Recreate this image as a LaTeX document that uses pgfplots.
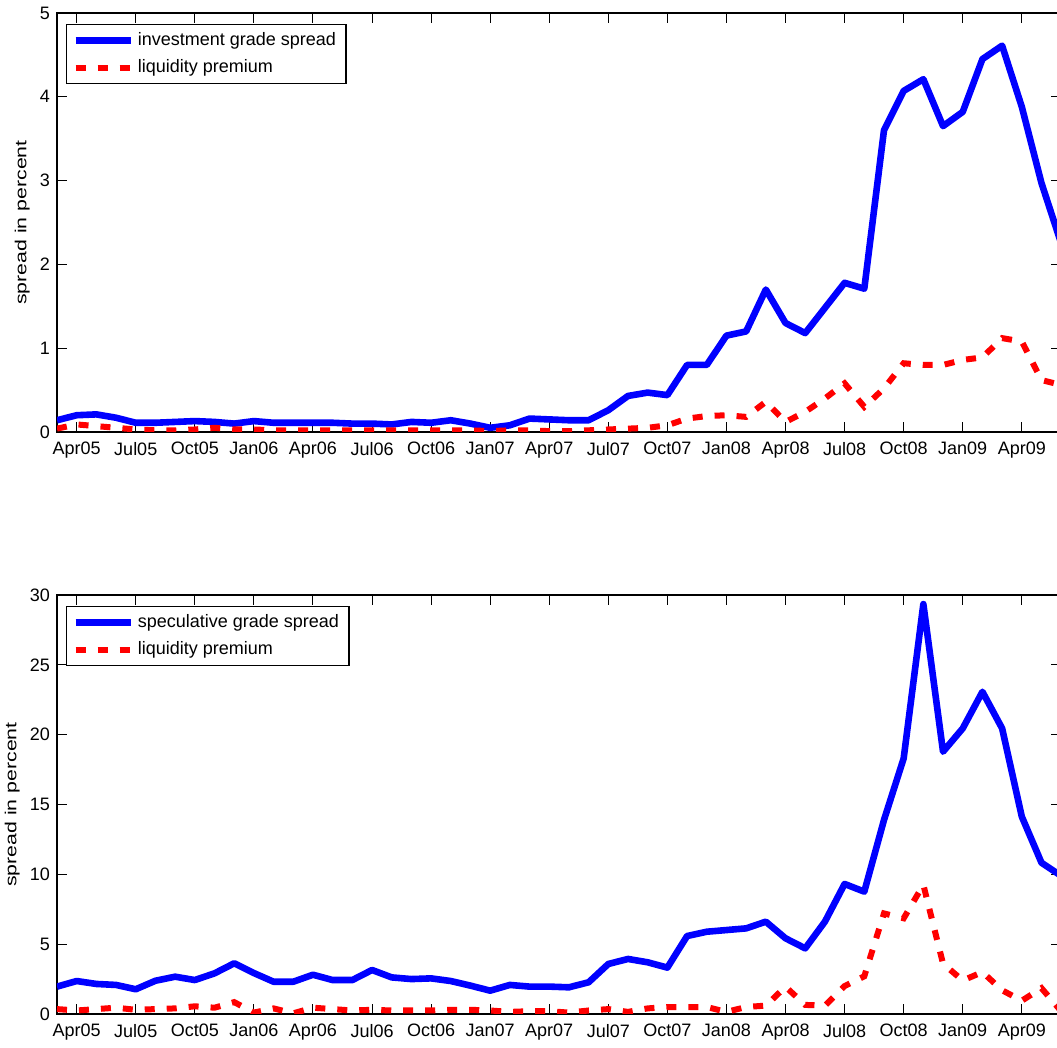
\documentclass[border=0pt]{standalone}
\usepackage{fontspec}
\setmainfont{Liberation Sans}
\usepackage{graphicx}
\usepackage{pgfplots}
\pgfplotsset{compat=1.18}
\usepackage{pgfplotstable}

% month index: 0 = Mar05 ... 51 = Jun09
\pgfplotstableread{
m blue red
0 0.14 0.04
1 0.20 0.09
2 0.21 0.07
3 0.17 0.05
4 0.11 0.03
5 0.11 0.02
6 0.12 0.02
7 0.13 0.03
8 0.12 0.05
9 0.10 0.03
10 0.13 0.03
11 0.11 0.02
12 0.11 0.02
13 0.11 0.02
14 0.11 0.02
15 0.10 0.02
16 0.10 0.02
17 0.09 0.02
18 0.12 0.02
19 0.11 0.02
20 0.14 0.02
21 0.10 0.02
22 0.05 0.01
23 0.08 0.02
24 0.16 0.02
25 0.15 0.01
26 0.14 0.01
27 0.14 0.02
28 0.26 0.03
29 0.43 0.04
30 0.47 0.05
31 0.44 0.08
32 0.80 0.16
33 0.80 0.19
34 1.15 0.20
35 1.20 0.18
36 1.70 0.36
37 1.30 0.12
38 1.18 0.24
39 1.48 0.40
40 1.78 0.58
41 1.71 0.30
42 3.60 0.52
43 4.07 0.82
44 4.21 0.80
45 3.65 0.80
46 3.82 0.86
47 4.45 0.89
48 4.61 1.12
49 3.88 1.08
50 2.97 0.62
51 2.25 0.56
}\investdata

\pgfplotstableread{
m blue red
0 1.96 0.35
1 2.36 0.25
2 2.15 0.35
3 2.08 0.45
4 1.77 0.30
5 2.38 0.35
6 2.67 0.40
7 2.43 0.55
8 2.91 0.45
9 3.63 0.85
10 2.93 0.10
11 2.31 0.40
12 2.31 0.05
13 2.81 0.45
14 2.43 0.35
15 2.43 0.25
16 3.15 0.30
17 2.62 0.25
18 2.50 0.25
19 2.55 0.25
20 2.36 0.30
21 2.03 0.30
22 1.67 0.25
23 2.08 0.15
24 1.96 0.20
25 1.96 0.20
26 1.91 0.10
27 2.27 0.25
28 3.58 0.35
29 3.94 0.15
30 3.70 0.40
31 3.32 0.50
32 5.58 0.50
33 5.89 0.50
34 6.01 0.15
35 6.13 0.50
36 6.61 0.60
37 5.42 1.95
38 4.70 0.65
39 6.61 0.60
40 9.31 2.00
41 8.76 2.70
42 13.89 7.20
43 18.30 6.85
44 29.35 9.25
45 18.78 3.60
46 20.45 2.40
47 23.07 3.00
48 20.45 1.70
49 14.13 0.95
50 10.83 1.85
51 9.89 0.20
}\specdata

\pgfplotsset{
  spreadaxis/.style={
    scale only axis,
    width=502.1pt, height=209.5pt,
    xmin=0, xmax=51,
    xtick={1,4,...,49},
    xticklabels={Apr05,Jul05,Oct05,Jan06,Apr06,Jul06,Oct06,Jan07,Apr07,Jul07,Oct07,Jan08,Apr08,Jul08,Oct08,Jan09,Apr09},
    tick pos=both, tick align=inside,
    major tick length=5pt,
    every tick/.style={black, line width=0.5pt},
    axis line style={line width=0.8pt},
    font=\fontsize{9}{10.8}\selectfont,
    xticklabel style={yshift=-1.5pt},
    ylabel={\scalebox{1.33}[1]{spread in percent}},
    ylabel style={font=\fontsize{8}{9.6}\selectfont, inner sep=0pt, anchor=south},
    /pgf/number format/assume math mode=true,
    legend cell align=left,
    legend image code/.code={\draw[##1] (0pt,0pt) -- (27.5pt,0pt);},
    legend style={at={(0.0087,0.974)}, anchor=north west,
      draw=black, line width=0.6pt,
      font=\fontsize{9}{11}\selectfont,
      row sep=1.5pt, inner xsep=3pt, inner ysep=2pt},
  },
  bluel/.style={color=blue, line width=3.3pt, line join=round},
  redl/.style={color=red, line width=3pt, dash pattern=on 5pt off 6pt},
}

\begin{document}
\begin{tikzpicture}
\path[use as bounding box] (0,0) rectangle (528.5pt,524pt);

\begin{axis}[spreadaxis, at={(28.5pt,308pt)}, anchor=south west,
  ymin=0, ymax=5, ytick={0,1,...,5},
  ylabel style={at={([xshift=-13.5pt]rel axis cs:0,0.5)}}]
\addplot[bluel] table[x=m, y=blue] {\investdata};
\addlegendentry{investment grade spread}
\addplot[redl] table[x=m, y=red] {\investdata};
\addlegendentry{liquidity premium}
\end{axis}

\begin{axis}[spreadaxis, at={(28.5pt,17pt)}, anchor=south west,
  ymin=0, ymax=30, ytick={0,5,...,30},
  ylabel style={at={([xshift=-18.5pt]rel axis cs:0,0.5)}}]
\addplot[bluel] table[x=m, y=blue] {\specdata};
\addlegendentry{speculative grade spread}
\addplot[redl] table[x=m, y=red] {\specdata};
\addlegendentry{liquidity premium}
\end{axis}
\end{tikzpicture}
\end{document}
